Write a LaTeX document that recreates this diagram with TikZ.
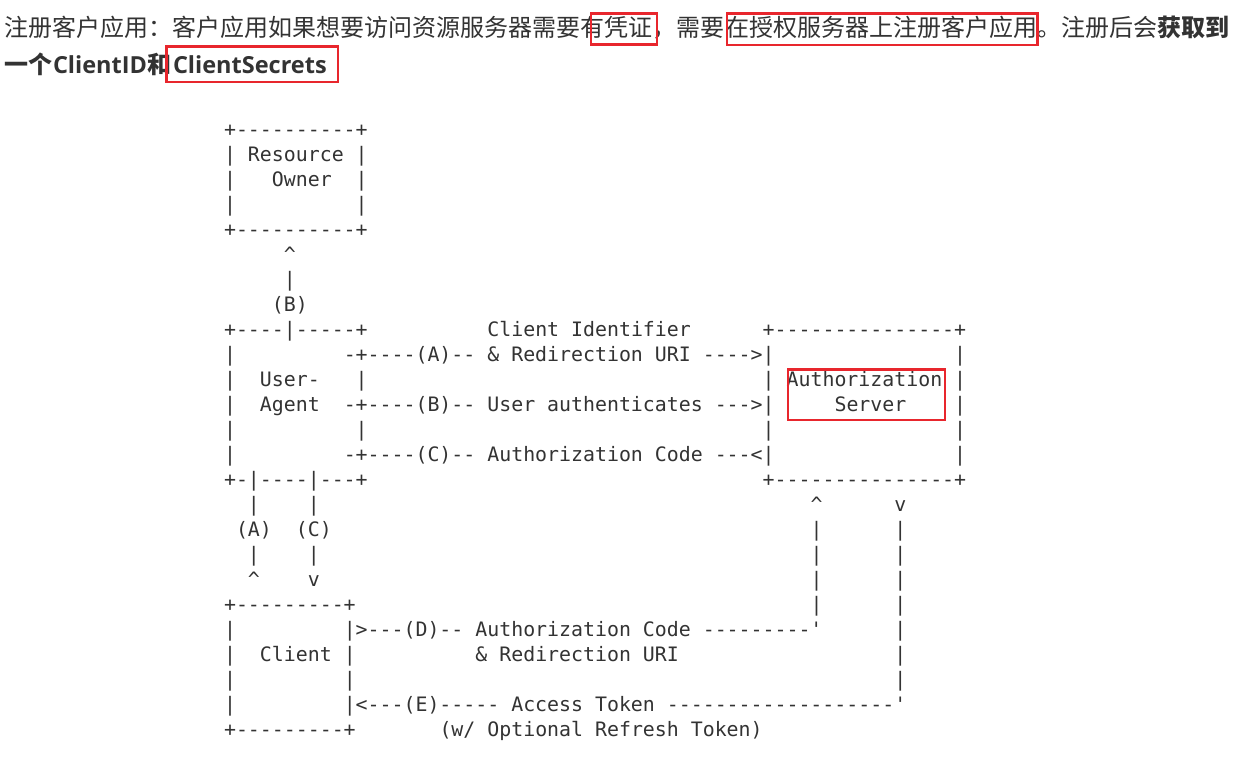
\documentclass[tikz,border=0pt]{standalone}
\usepackage{fontspec}
\setmonofont{DejaVu Sans Mono}
\newfontfamily\cjk{Noto Sans CJK SC}
\newfontfamily\latb{Open Sans}
\definecolor{txt}{HTML}{333333}
\definecolor{redbox}{HTML}{E8262D}
\newcommand\asc[4]{\node[ascii] (#1) at ({164.2+#2*11.97},{136.7+#3*25}) {#4};}
\newcommand\up{\textasciicircum}
\begin{document}
\begin{tikzpicture}[x=1pt,y=-1pt,
  ascii/.style={anchor=base west, inner sep=0pt, outer sep=0pt, text=txt,
    font=\ttfamily\fontsize{19.88pt}{25pt}\selectfont},
  head/.style={anchor=base west, inner sep=0pt, outer sep=0pt, text=txt,
    font=\cjk\fontsize{24pt}{30pt}\selectfont},
  hilite/.style={draw=redbox, line width=2.2pt}]
\useasboundingbox[fill=white] (0,0) rectangle (1244,771);

% heading
\node[head] (h1) at (5,36.5) {注册客户应用：客户应用如果想要访问资源服务器需要有凭证，需要在授权服务器上注册客户应用。注册后会\textbf{获取到}};
\node[head] (h2) at (5,73.5) {\textbf{一个{\latb\fontsize{23.5pt}{28pt}\selectfont ClientID}和{\latb\fontsize{23.5pt}{28pt}\selectfont\hspace{2pt}ClientSecrets}}};

% ASCII diagram
\asc{r0a}{5}{0}{+----------+}
\asc{r1a}{5}{1}{| Resource |}
\asc{r2a}{5}{2}{|}\asc{r2b}{9}{2}{Owner}\asc{r2c}{16}{2}{|}
\asc{r3a}{5}{3}{|}\asc{r3b}{16}{3}{|}
\asc{r4a}{5}{4}{+----------+}
\asc{r5a}{10}{5}{\up}
\asc{r6a}{10}{6}{|}
\asc{r7a}{9}{7}{(B)}
\asc{r8a}{5}{8}{+----|-----+}\asc{r8b}{27}{8}{Client Identifier}\asc{r8c}{50}{8}{+---------------+}
\asc{r9a}{5}{9}{|}\asc{r9b}{15}{9}{-+----(A)-- \& Redirection URI ---->|}\asc{r9c}{66}{9}{|}
\asc{r10a}{5}{10}{|}\asc{r10b}{8}{10}{User-}\asc{r10c}{16}{10}{|}\asc{r10d}{50}{10}{| Authorization |}
\asc{r11a}{5}{11}{|}\asc{r11b}{8}{11}{Agent}\asc{r11c}{15}{11}{-+----(B)-- User authenticates --->|}\asc{r11d}{56}{11}{Server}\asc{r11e}{66}{11}{|}
\asc{r12a}{5}{12}{|}\asc{r12b}{16}{12}{|}\asc{r12c}{50}{12}{|}\asc{r12d}{66}{12}{|}
\asc{r13a}{5}{13}{|}\asc{r13b}{15}{13}{-+----(C)-- Authorization Code ---<|}\asc{r13c}{66}{13}{|}
\asc{r14a}{5}{14}{+-|----|---+}\asc{r14b}{50}{14}{+---------------+}
\asc{r15a}{7}{15}{|}\asc{r15b}{12}{15}{|}\asc{r15c}{54}{15}{\up}\asc{r15d}{61}{15}{v}
\asc{r16a}{6}{16}{(A)}\asc{r16b}{11}{16}{(C)}\asc{r16c}{54}{16}{|}\asc{r16d}{61}{16}{|}
\asc{r17a}{7}{17}{|}\asc{r17b}{12}{17}{|}\asc{r17c}{54}{17}{|}\asc{r17d}{61}{17}{|}
\asc{r18a}{7}{18}{\up}\asc{r18b}{12}{18}{v}\asc{r18c}{54}{18}{|}\asc{r18d}{61}{18}{|}
\asc{r19a}{5}{19}{+---------+}\asc{r19b}{54}{19}{|}\asc{r19c}{61}{19}{|}
\asc{r20a}{5}{20}{|}\asc{r20b}{15}{20}{|>---(D)-- Authorization Code ---------'}\asc{r20c}{61}{20}{|}
\asc{r21a}{5}{21}{|}\asc{r21b}{8}{21}{Client}\asc{r21c}{15}{21}{|}\asc{r21d}{26}{21}{\& Redirection URI}\asc{r21e}{61}{21}{|}
\asc{r22a}{5}{22}{|}\asc{r22b}{15}{22}{|}\asc{r22c}{61}{22}{|}
\asc{r23a}{5}{23}{|}\asc{r23b}{15}{23}{|<---(E)----- Access Token -------------------'}
\asc{r24a}{5}{24}{+---------+}\asc{r24b}{23}{24}{(w/ Optional Refresh Token)}

% red highlight boxes
\draw[hilite] (591,13.5) rectangle (657,44.5);
\draw[hilite] (727,13.5) rectangle (1037.5,45);
\draw[hilite] (166.5,46.5) rectangle (338,82);
\draw[hilite] (788,369.5) rectangle (945,420);
\end{tikzpicture}
\end{document}
